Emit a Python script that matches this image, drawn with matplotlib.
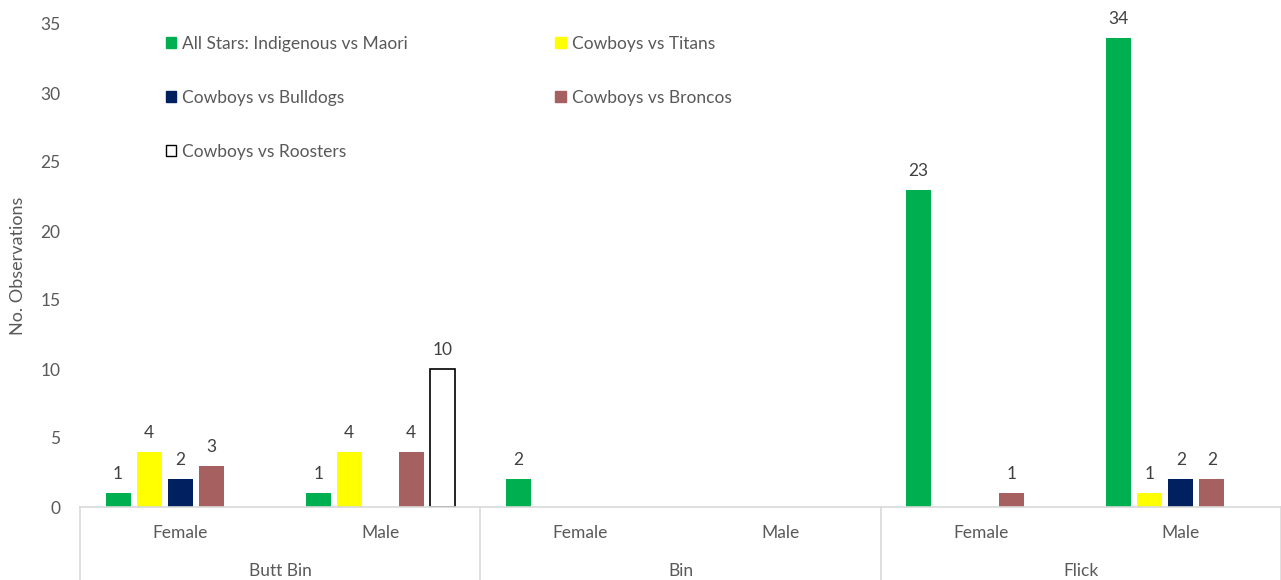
import matplotlib.pyplot as plt
from matplotlib.patches import Patch
import numpy as np

plt.rcParams['font.family'] = ['Lato', 'DejaVu Sans']

# categories
genders = ["Female", "Male", "Female", "Male", "Female", "Male"]
groups = ["Butt Bin", "Bin", "Flick"]

# series
series_names = ["All Stars: Indigenous vs Maori", "Cowboys vs Titans",
                "Cowboys vs Bulldogs", "Cowboys vs Broncos", "Cowboys vs Roosters"]
all_stars = [1, 1, 2, 0, 23, 34]
titans = [4, 4, 0, 0, 0, 1]
bulldogs = [2, 0, 0, 0, 0, 2]
broncos = [3, 4, 0, 0, 1, 2]
roosters = [0, 10, 0, 0, 0, 0]
values = [all_stars, titans, bulldogs, broncos, roosters]

colors = ["#00B050", "#FFFF00", "#002060", "#A5605F", "white"]
edges = ["none", "none", "none", "none", "black"]

grey = "#595959"
line_grey = "#D9D9D9"
fs = 12.5

fig = plt.figure(figsize=(12.81, 5.8), dpi=100)
ax = fig.add_axes([80 / 1281, 73 / 580, 1 - 80 / 1281, (507 - 24) / 580])

x = np.arange(len(genders))
slot = 0.155
width = 0.125
for i, vals in enumerate(values):
    pos = x + (i - 2) * slot
    # zero counts are not drawn
    vals = np.array(vals, dtype=float)
    keep = vals > 0
    ax.bar(pos[keep], vals[keep], width, color=colors[i], edgecolor=edges[i],
           linewidth=1.2 if edges[i] != "none" else 0)
    for p, v in zip(pos[keep], vals[keep]):
        ax.text(p, v + 0.8, str(int(v)), ha="center", va="bottom",
                fontsize=fs, color="#404040")

ax.set_xlim(-0.5, 5.5)
ax.set_ylim(0, 35)
ax.set_yticks(range(0, 36, 5))
ax.tick_params(axis="y", length=0, pad=14, labelsize=fs, labelcolor=grey)
ax.set_xticks([])
ax.set_ylabel("No. Observations", fontsize=13, color=grey, labelpad=10)

for s in ["top", "right", "left"]:
    ax.spines[s].set_visible(False)
ax.spines["bottom"].set_color(line_grey)
ax.spines["bottom"].set_linewidth(1.2)

# two level category axis
trans = ax.get_xaxis_transform()
for xi, g in zip(x, genders):
    ax.text(xi, -0.054, g, transform=trans, ha="center", va="center",
            fontsize=fs, color=grey)
for j, g in enumerate(groups):
    ax.text(2 * j + 0.5, -0.133, g, transform=trans, ha="center", va="center",
            fontsize=fs, color=grey)
for sx in [-0.5, 1.5, 3.5, 5.5]:
    ax.plot([sx, sx], [0, -0.16], transform=trans, color=line_grey,
            linewidth=1.2, clip_on=False)

# legend
order = [0, 2, 4, 1, 3]
handles = [Patch(facecolor=colors[i], edgecolor=edges[i] if edges[i] != "none" else colors[i])
           for i in order]
labels = [series_names[i] for i in order]
leg = fig.legend(handles, labels, ncol=2, loc="upper left",
                 bbox_to_anchor=(150 / 1281, 1 - 20 / 580), frameon=False,
                 fontsize=fs, labelcolor=grey, handlelength=0.6, handleheight=0.6,
                 handletextpad=0.35, labelspacing=2.2, columnspacing=8.5)

fig.savefig("out.png", dpi=100)
